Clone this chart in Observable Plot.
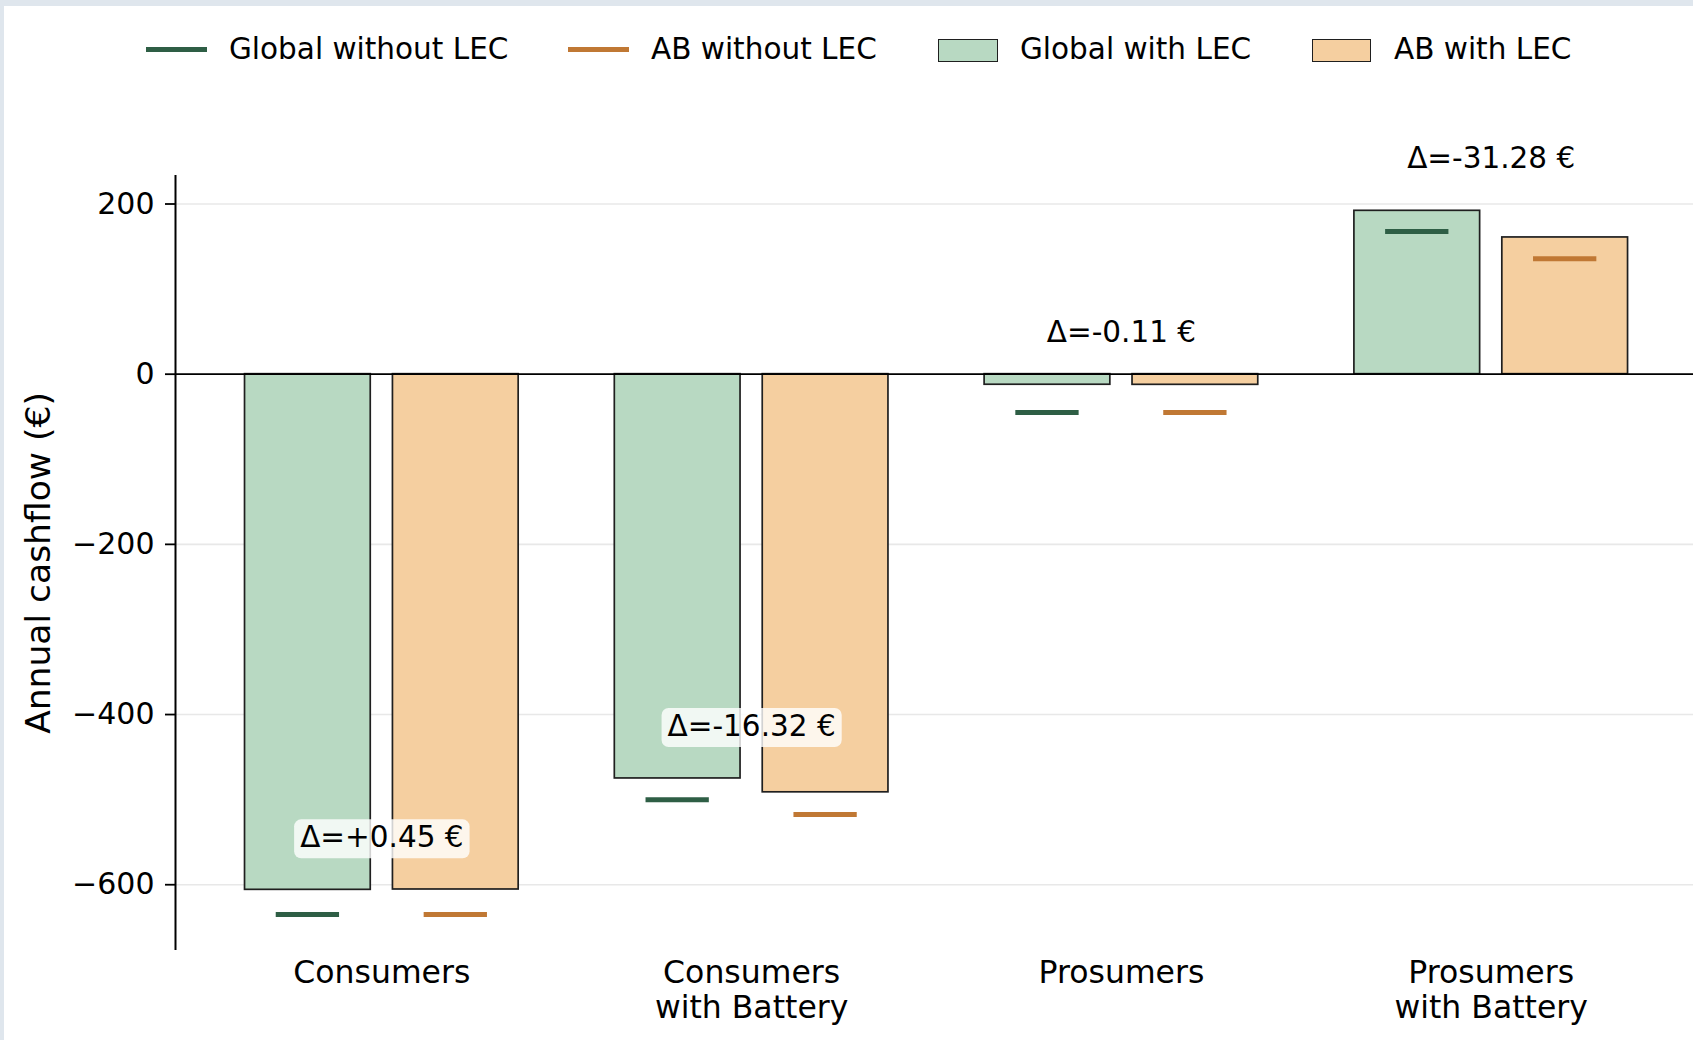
<!DOCTYPE html>
<html>
<head>
<meta charset="utf-8">
<script src="https://cdn.jsdelivr.net/npm/d3@7"></script>
<script src="https://cdn.jsdelivr.net/npm/@observablehq/plot@0.6"></script>
<style>
  html, body { margin: 0; padding: 0; background: #fff; }
  #page { position: relative; width: 1693px; height: 1040px; overflow: hidden; background: #fff; font-family: "DejaVu Sans", sans-serif; }
  #chart { position: absolute; left: 0; top: 0; }
  .strip-top { position: absolute; left: 0; top: 0; width: 1693px; height: 6px; background: #dfe6ed; }
  .strip-left { position: absolute; left: 0; top: 0; width: 4px; height: 1040px; background: #dfe6ed; }
  .leg-sw { position: absolute; box-sizing: border-box; }
  .leg-text { position: absolute; top: 35px; font-size: 29.5px; line-height: 29.5px; color: #000; white-space: nowrap; }
</style>
</head>
<body>
<div id="page">
  <div id="chart"></div>
  <div id="legend"></div>
  <div class="strip-top"></div>
  <div class="strip-left"></div>
</div>
<script>
// ---- data ----
const categories = ["Consumers", "Consumers\nwith Battery", "Prosumers", "Prosumers\nwith Battery"];
const globalWithLEC = [-606.0, -475.1, -12.4, 192.0];
const abWithLEC = [-605.6, -491.4, -12.5, 160.7];
const globalWithoutLEC = [-635.0, -500.0, -45.0, 167.7];
const abWithoutLEC = [-635.0, -517.5, -45.0, 135.6];
const deltaLabels = ["Δ=+0.45 €", "Δ=-16.32 €", "Δ=-0.11 €", "Δ=-31.28 €"];
const yTicks = [200, 0, -200, -400, -600];
const yLabel = "Annual cashflow (€)";
const legendLabels = ["Global without LEC", "AB without LEC", "Global with LEC", "AB with LEC"];

// ---- styles ----
const C = {
  gFill: "#b8d9c2", oFill: "#f5cfa0",
  gLine: "#2e5e45", oLine: "#c07834",
  edge: "#1f1f1f", grid: "#e8e8e8"
};
const xDomain = [-0.558, 3.547];
const yDomain = [-677.3, 233.5];
const barW = 0.34, off = 0.2, lineHalf = 0.0856, annOffset = 61;
const idx = categories.map((_, i) => i);

const plot = Plot.plot({
  width: 1693,
  height: 1040,
  marginLeft: 175,
  marginRight: 0,
  marginTop: 175,
  marginBottom: 90,
  style: { fontFamily: "DejaVu Sans", background: "transparent", color: "#000", overflow: "visible" },
  x: { type: "linear", domain: xDomain, axis: null },
  y: { domain: yDomain, axis: null },
  marks: [
    Plot.ruleY(yTicks, { stroke: C.grid, strokeWidth: 1.6 }),
    Plot.rect(idx, { x1: i => i - off - barW / 2, x2: i => i - off + barW / 2, y1: 0, y2: i => globalWithLEC[i], fill: C.gFill, stroke: C.edge, strokeWidth: 1.7 }),
    Plot.rect(idx, { x1: i => i + off - barW / 2, x2: i => i + off + barW / 2, y1: 0, y2: i => abWithLEC[i], fill: C.oFill, stroke: C.edge, strokeWidth: 1.7 }),
    Plot.ruleY([0], { stroke: "#000", strokeWidth: 1.8 }),
    Plot.ruleY(idx, { y: i => globalWithoutLEC[i], x1: i => i - off - lineHalf, x2: i => i - off + lineHalf, stroke: C.gLine, strokeWidth: 5 }),
    Plot.ruleY(idx, { y: i => abWithoutLEC[i], x1: i => i + off - lineHalf, x2: i => i + off + lineHalf, stroke: C.oLine, strokeWidth: 5 }),
    Plot.text(idx, { x: i => i, y: i => globalWithLEC[i] + annOffset, text: i => deltaLabels[i], fontSize: 29.5, fill: "#000", ariaLabel: i => "delta-" + i, ariaDescription: "delta" }),
    Plot.ruleX([xDomain[0]], { stroke: "#000", strokeWidth: 2 }),
    Plot.axisY({ ticks: yTicks, tickFormat: d3.format("d"), tickSize: 10, tickPadding: 11, fontSize: 30, label: null, strokeWidth: 1.8 }),
    Plot.text(idx, { x: i => i, text: i => categories[i], frameAnchor: "bottom", lineAnchor: "top", dy: 8, fontSize: 31.5, lineHeight: 1.11, fill: "#000" }),
    Plot.text([yLabel], { text: d => d, frameAnchor: "left", textAnchor: "middle", lineAnchor: "middle", dx: -137, rotate: -90, fontSize: 34.5, fill: "#000" })
  ]
});

document.getElementById("chart").appendChild(plot);

// rounded translucent boxes behind the delta annotations
let annTexts = Array.from(plot.querySelectorAll('text[aria-label^="delta"]'));
if (!annTexts.length) annTexts = Array.from(plot.querySelectorAll('g[aria-description="delta"] text'));
if (!annTexts.length) annTexts = Array.from(plot.querySelectorAll("text")).filter(t => deltaLabels.includes(t.textContent));
annTexts.forEach(t => {
  const bb = t.getBBox();
  const r = document.createElementNS("http://www.w3.org/2000/svg", "rect");
  r.setAttribute("x", bb.x - 6);
  r.setAttribute("y", bb.y - 1);
  r.setAttribute("width", bb.width + 12);
  r.setAttribute("height", bb.height + 5);
  r.setAttribute("rx", 7);
  r.setAttribute("fill", "#fff");
  r.setAttribute("fill-opacity", 0.8);
  r.setAttribute("stroke", "none");
  const tr = t.getAttribute("transform");
  if (tr) r.setAttribute("transform", tr);
  t.parentNode.insertBefore(r, t);
});

// ---- legend ----
const legend = document.getElementById("legend");
const legendItems = [
  { kind: "line", color: C.gLine, sx: 146, sw: 61, tx: 229 },
  { kind: "line", color: C.oLine, sx: 568, sw: 61, tx: 651 },
  { kind: "rect", color: C.gFill, sx: 938, sw: 60, tx: 1020 },
  { kind: "rect", color: C.oFill, sx: 1312, sw: 59, tx: 1394 }
];
legendItems.forEach((it, k) => {
  const sw = document.createElement("div");
  sw.className = "leg-sw";
  sw.style.left = it.sx + "px";
  sw.style.width = it.sw + "px";
  if (it.kind === "line") {
    sw.style.top = "47.2px";
    sw.style.height = "5px";
    sw.style.background = it.color;
  } else {
    sw.style.top = "38.5px";
    sw.style.height = "23px";
    sw.style.background = it.color;
    sw.style.border = "1.6px solid " + C.edge;
  }
  legend.appendChild(sw);
  const tx = document.createElement("div");
  tx.className = "leg-text";
  tx.style.left = it.tx + "px";
  tx.textContent = legendLabels[k];
  legend.appendChild(tx);
});
</script>
</body>
</html>
